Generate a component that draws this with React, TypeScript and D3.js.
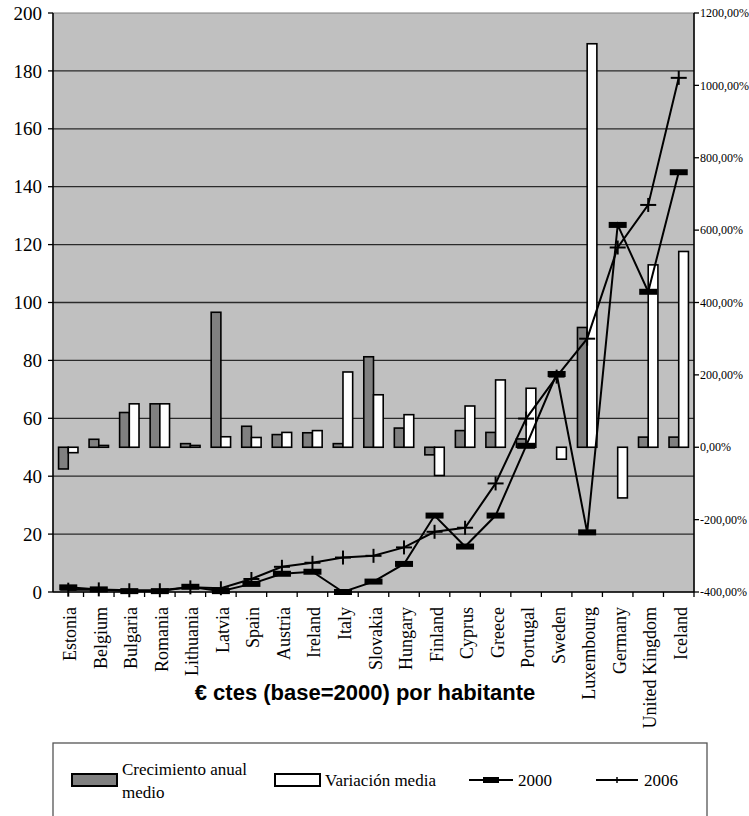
import React from "react";
import * as d3 from "d3";

const categories = ["Estonia","Belgium","Bulgaria","Romania","Lithuania","Latvia","Spain","Austria","Ireland","Italy","Slovakia","Hungary","Finland","Cyprus","Greece","Portugal","Sweden","Luxembourg","Germany","United Kingdom","Iceland"];
const crecimiento = [-60, 22, 96, 120, 10, 373, 58, 35, 40, 10, 250, 53, -21, 46, 41, 23, 0, 331, 0, 28, 28];
const variacion = [-15, 5, 120, 120, 5, 29, 27, 41, 46, 208, 145, 90, -78, 114, 186, 163, -33, 1115, -140, 504, 541];
const v2000 = [1.6, 0.9, 0.3, 0.3, 1.8, 0.3, 2.8, 6.3, 7.0, 0, 3.6, 9.7, 26.4, 15.7, 26.4, 50.5, 75.3, 20.6, 126.8, 103.7, 145];
const v2006 = [0.8, 0.9, 0.6, 0.6, 1.6, 1.3, 4.5, 8.7, 10.1, 11.9, 12.5, 15.4, 20.8, 22.2, 37.5, 59.9, 74.4, 87.5, 119, 133.7, 177.6];
const leftTicks = [0, 20, 40, 60, 80, 100, 120, 140, 160, 180, 200];
const rightTicks = [-400, -200, 0, 200, 400, 600, 800, 1000, 1200];
const title = "€ ctes (base=2000) por habitante";
const legendLabels = ["Crecimiento anual", "medio", "Variación media", "2000", "2006"];

const SERIF = "'Liberation Serif', 'Times New Roman', serif";
const SANS = "'Liberation Sans', Arial, sans-serif";

export default function App() {
  const L = 53, R = 694, T = 13, B = 592;
  const x = d3.scaleBand<string>().domain(categories).range([L, R]);
  const yL = d3.scaleLinear().domain([0, 200]).range([B, T]);
  const yR = d3.scaleLinear().domain([-400, 1200]).range([B, T]);
  const groupW = 19.4;
  const xs = d3.scaleBand<string>().domain(["c", "v"]).range([0, groupW]);
  const cx = (c: string) => (x(c) as number) + x.bandwidth() / 2;
  const line = d3.line<number>().x((_, i) => cx(categories[i]));
  const fmtR = (v: number) => v.toFixed(2).replace(".", ",") + "%";

  const barRect = (c: string, key: string, v: number, fill: string, i: number) => {
    const x0 = cx(c) - groupW / 2 + (xs(key) as number);
    const y0 = yR(Math.max(0, v));
    const h = Math.abs(yR(v) - yR(0));
    return <rect key={key + i} x={x0} y={y0} width={xs.bandwidth()} height={h} fill={fill} stroke="#000" strokeWidth={1.6} />;
  };

  return (
    <svg width={749} height={816} style={{ position: "absolute", left: 0, top: 0, background: "#fff" }}>
      <rect x={L} y={T} width={R - L} height={B - T} fill="#C0C0C0" stroke="#808080" strokeWidth={1} />
      {leftTicks.filter(t => t > 0 && t < 200).map(t => (
        <line key={"g" + t} x1={L} x2={R} y1={yL(t)} y2={yL(t)} stroke="#2a2a2a" strokeWidth={1.3} />
      ))}
      {categories.map((c, i) => barRect(c, "c", crecimiento[i], "#808080", i))}
      {categories.map((c, i) => barRect(c, "v", variacion[i], "#ffffff", i))}
      <path d={line.y(d => yL(d))(v2000) as string} fill="none" stroke="#000" strokeWidth={2} />
      <path d={line.y(d => yL(d))(v2006) as string} fill="none" stroke="#000" strokeWidth={2} />
      {v2000.map((v, i) => (
        <rect key={"m0" + i} x={cx(categories[i]) - 9} y={yL(v) - 3} width={18} height={6} fill="#000" />
      ))}
      {v2006.map((v, i) => (
        <g key={"m6" + i} stroke="#000" strokeWidth={2}>
          <line x1={cx(categories[i]) - 8} x2={cx(categories[i]) + 8} y1={yL(v)} y2={yL(v)} />
          <line x1={cx(categories[i])} x2={cx(categories[i])} y1={yL(v) - 7} y2={yL(v) + 7} />
        </g>
      ))}
      <line x1={L} x2={L} y1={T} y2={B} stroke="#000" strokeWidth={1.5} />
      <line x1={R} x2={R} y1={T} y2={B} stroke="#000" strokeWidth={1.5} />
      <line x1={L} x2={R} y1={B} y2={B} stroke="#000" strokeWidth={1.5} />
      {leftTicks.map(t => (
        <g key={"lt" + t}>
          <line x1={L - 5} x2={L} y1={yL(t)} y2={yL(t)} stroke="#000" strokeWidth={1.3} />
          <text x={L - 11} y={yL(t)} dy="0.35em" textAnchor="end" fontFamily={SERIF} fontSize={19} fill="#000">{t}</text>
        </g>
      ))}
      {rightTicks.map(t => (
        <g key={"rt" + t}>
          <line x1={R} x2={R + 5} y1={yR(t)} y2={yR(t)} stroke="#000" strokeWidth={1.3} />
          <text x={R + 6} y={yR(t)} dy="0.35em" textAnchor="start" fontFamily={SERIF} fontSize={12} fill="#000">{fmtR(t)}</text>
        </g>
      ))}
      {categories.map((c, i) => (
        <line key={"bt" + i} x1={(x(c) as number) + x.bandwidth()} x2={(x(c) as number) + x.bandwidth()} y1={B} y2={B + 5} stroke="#000" strokeWidth={1.3} />
      ))}
      {categories.map(c => (
        <text key={"xl" + c} transform={`translate(${cx(c) + 8},607) rotate(-90)`} textAnchor="end" fontFamily={SERIF} fontSize={18} fill="#000">{c}</text>
      ))}
      <text x={365} y={700} textAnchor="middle" fontFamily={SANS} fontWeight="bold" fontSize={22} fill="#000">{title}</text>
      <rect x={53} y={743} width={654} height={100} fill="#fff" stroke="#555" strokeWidth={1.3} />
      <rect x={72} y={774} width={45} height={12} fill="#808080" stroke="#000" strokeWidth={2} />
      <text fontFamily={SERIF} fontSize={17} fill="#000">
        <tspan x={122} y={775}>{legendLabels[0]}</tspan>
        <tspan x={122} y={798}>{legendLabels[1]}</tspan>
      </text>
      <rect x={275} y={774} width={45} height={12} fill="#fff" stroke="#000" strokeWidth={2} />
      <text x={325} y={786} fontFamily={SERIF} fontSize={17} fill="#000">{legendLabels[2]}</text>
      <line x1={469} x2={513} y1={780} y2={780} stroke="#000" strokeWidth={2} />
      <rect x={483} y={777} width={16} height={6} fill="#000" />
      <text x={518} y={786} fontFamily={SERIF} fontSize={17} fill="#000">{legendLabels[3]}</text>
      <line x1={596} x2={638} y1={780} y2={780} stroke="#000" strokeWidth={2} />
      <line x1={617} x2={617} y1={777} y2={783} stroke="#000" strokeWidth={1.5} />
      <text x={644} y={786} fontFamily={SERIF} fontSize={17} fill="#000">{legendLabels[4]}</text>
    </svg>
  );
}
